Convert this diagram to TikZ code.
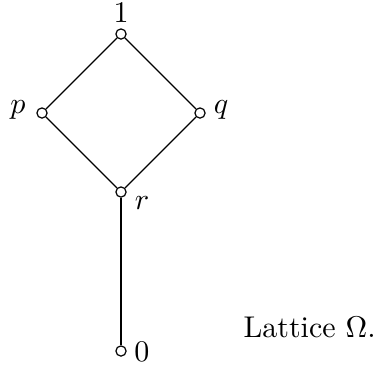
\documentclass[tikz,border=0pt]{standalone}
\begin{document}
\begin{tikzpicture}[x=0.3333pt,y=-0.3333pt,
  pt/.style={circle,draw,fill=white,inner sep=0pt,minimum size=3.4pt,line width=0.4pt},
  lbl/.style={inner sep=0pt},
  edge/.style={line width=0.4pt}]
\useasboundingbox (0,0) rectangle (380,369);
\node[pt] (one) at (121,34) {};
\node[pt] (p) at (42,113) {};
\node[pt] (q) at (200,113) {};
\node[pt] (r) at (121,192) {};
\node[pt] (zero) at (121,351) {};
\draw[edge] (one) -- (p);
\draw[edge] (one) -- (q);
\draw[edge] (p) -- (r);
\draw[edge] (q) -- (r);
\draw[edge] (r) -- (zero);
\node[lbl] (l1) at (121,13) {$1$};
\node[lbl] (lp) at (18,110) {$p$};
\node[lbl] (lq) at (221,110) {$q$};
\node[lbl] (lr) at (142,203) {$r$};
\node[lbl] (l0) at (142,352) {$0$};
\node[lbl,anchor=base west] (cap) at (243,337) {Lattice $\Omega$.};
\end{tikzpicture}
\end{document}
